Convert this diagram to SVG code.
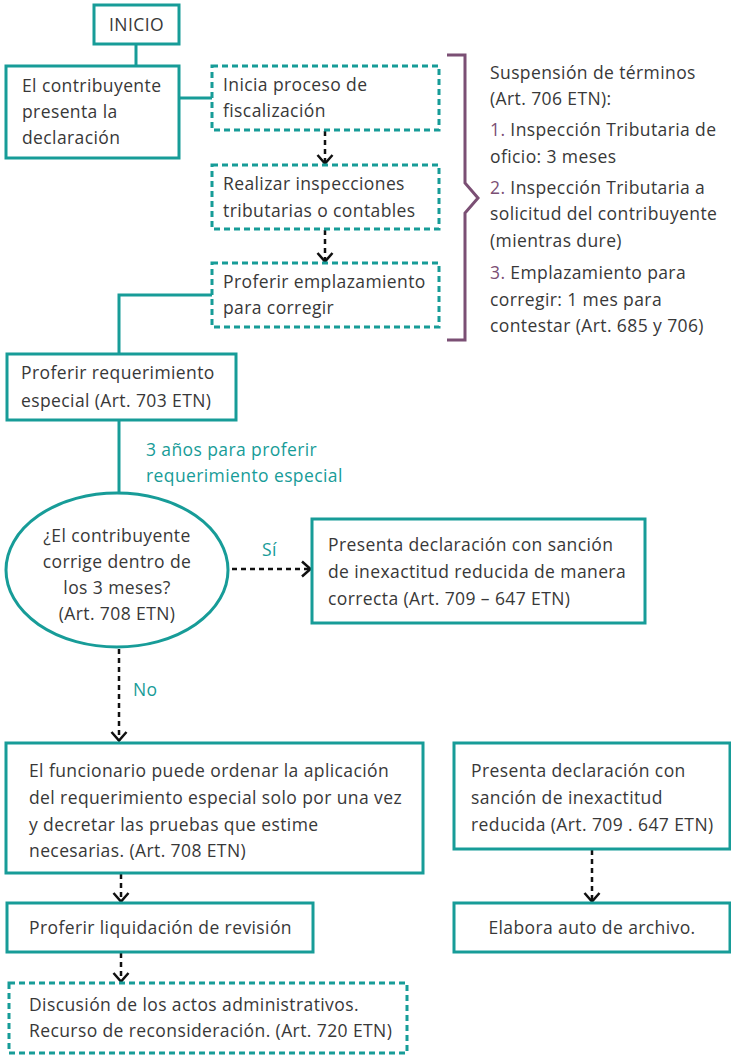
<svg xmlns="http://www.w3.org/2000/svg" width="731" height="1055" viewBox="0 0 731 1055">
<style>
text{font-family:"Open Sans","Liberation Sans",sans-serif;font-size:17.5px;letter-spacing:0.4px;fill:#383838}
.box{fill:#ffffff;stroke:#179c98;stroke-width:3}
.dbox{fill:#ffffff;stroke:#179c98;stroke-width:3;stroke-dasharray:6 4}
.line{fill:none;stroke:#179c98;stroke-width:3}
.arr{fill:none;stroke:#111111;stroke-width:2.5;stroke-dasharray:5 4;marker-end:url(#chev)}
.lbl{fill:#179c98}
.num{fill:#7b4f74}
.brace{fill:none;stroke:#7b4f74;stroke-width:3}
</style>
<defs>
<marker id="chev" viewBox="0 0 12 18" refX="10.5" refY="9" markerWidth="12" markerHeight="18" markerUnits="userSpaceOnUse" orient="auto">
<path d="M1.5,1.5 L10,9 L1.5,16.5" fill="none" stroke="#111111" stroke-width="2.5"/>
</marker>
</defs>
<g id="connectors">
<line class="line" x1="136" y1="44" x2="136" y2="66"/>
<line class="line" x1="179" y1="98" x2="212" y2="98"/>
<line class="arr" x1="325" y1="131" x2="325" y2="164"/>
<line class="arr" x1="325" y1="230" x2="325" y2="262"/>
<polyline class="line" points="212,295 119,295 119,354"/>
<line class="line" x1="119" y1="420" x2="119" y2="493"/>
<text class="lbl" x="146" y="456">3 años para proferir</text>
<text class="lbl" x="146" y="482">requerimiento especial</text>
<line class="arr" x1="232" y1="569" x2="311" y2="569"/>
<text class="lbl" x="262" y="556">Sí</text>
<line class="arr" x1="119" y1="649" x2="119" y2="741"/>
<text class="lbl" x="133" y="696">No</text>
<line class="arr" x1="121" y1="874" x2="121" y2="902"/>
<line class="arr" x1="121" y1="953" x2="121" y2="982"/>
<line class="arr" x1="592" y1="850" x2="592" y2="902"/>
<path class="brace" d="M447,55 H465 V183 L478,198 L465,213 V340 H447"/>
</g>
<g id="inicio">
<rect class="box" x="94" y="5" width="85" height="39"/>
<text x="136.5" y="31" text-anchor="middle">INICIO</text>
</g>
<g id="presenta">
<rect class="box" x="6" y="66" width="173" height="92"/>
<text x="22" y="92">El contribuyente</text>
<text x="22" y="118">presenta la</text>
<text x="22" y="144">declaración</text>
</g>
<g id="fiscalizacion">
<rect class="dbox" x="212" y="66" width="227" height="64"/>
<text x="223" y="91">Inicia proceso de</text>
<text x="223" y="117">fiscalización</text>
</g>
<g id="inspecciones">
<rect class="dbox" x="212" y="165" width="227" height="64"/>
<text x="223" y="190">Realizar inspecciones</text>
<text x="223" y="217">tributarias o contables</text>
</g>
<g id="emplazamiento">
<rect class="dbox" x="212" y="263" width="227" height="64"/>
<text x="223" y="288">Proferir emplazamiento</text>
<text x="223" y="314">para corregir</text>
</g>
<g id="suspension">
<text x="490" y="79">Suspensión de términos</text>
<text x="490" y="105">(Art. 706 ETN):</text>
<text x="490" y="136"><tspan class="num">1.</tspan> Inspección Tributaria de</text>
<text x="490" y="163">oficio: 3 meses</text>
<text x="490" y="194"><tspan class="num">2.</tspan> Inspección Tributaria a</text>
<text x="490" y="220">solicitud del contribuyente</text>
<text x="490" y="247">(mientras dure)</text>
<text x="490" y="279"><tspan class="num">3.</tspan> Emplazamiento para</text>
<text x="490" y="306">corregir: 1 mes para</text>
<text x="490" y="332">contestar (Art. 685 y 706)</text>
</g>
<g id="requerimiento">
<rect class="box" x="7" y="354" width="229" height="66"/>
<text x="21" y="379">Proferir requerimiento</text>
<text x="21" y="407">especial (Art. 703 ETN)</text>
</g>
<g id="decision">
<ellipse class="box" cx="117" cy="570" rx="111" ry="77"/>
<text x="117" y="542" text-anchor="middle">¿El contribuyente</text>
<text x="117" y="568" text-anchor="middle">corrige dentro de</text>
<text x="117" y="594" text-anchor="middle">los 3 meses?</text>
<text x="117" y="620" text-anchor="middle">(Art. 708 ETN)</text>
</g>
<g id="correcta">
<rect class="box" x="312" y="519" width="333" height="104"/>
<text x="328" y="551">Presenta declaración con sanción</text>
<text x="328" y="578">de inexactitud reducida de manera</text>
<text x="328" y="605">correcta (Art. 709 – 647 ETN)</text>
</g>
<g id="funcionario">
<rect class="box" x="6" y="743" width="417" height="130"/>
<text x="29" y="777">El funcionario puede ordenar la aplicación</text>
<text x="29" y="804">del requerimiento especial solo por una vez</text>
<text x="29" y="831">y decretar las pruebas que estime</text>
<text x="29" y="857">necesarias. (Art. 708 ETN)</text>
</g>
<g id="reducida">
<rect class="box" x="454" y="743" width="276" height="106"/>
<text x="471" y="777">Presenta declaración con</text>
<text x="471" y="804">sanción de inexactitud</text>
<text x="471" y="831">reducida (Art. 709 . 647 ETN)</text>
</g>
<g id="liquidacion">
<rect class="box" x="7" y="903" width="306" height="49"/>
<text x="29" y="934">Proferir liquidación de revisión</text>
</g>
<g id="archivo">
<rect class="box" x="454" y="903" width="276" height="49"/>
<text x="592" y="934" text-anchor="middle">Elabora auto de archivo.</text>
</g>
<g id="discusion">
<rect class="dbox" x="9" y="983" width="398" height="70"/>
<text x="29" y="1011">Discusión de los actos administrativos.</text>
<text x="29" y="1037">Recurso de reconsideración. (Art. 720 ETN)</text>
</g>
</svg>
